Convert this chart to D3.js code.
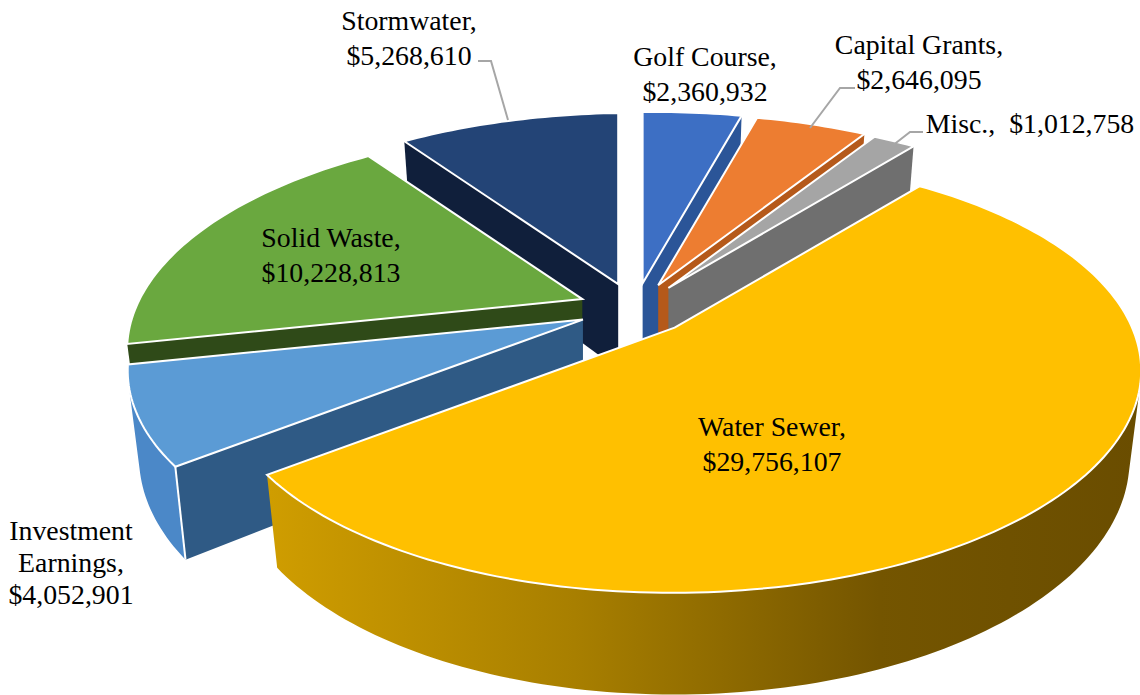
<!DOCTYPE html>
<html>
<head>
<meta charset="utf-8">
<script src="https://cdn.jsdelivr.net/npm/d3@7/dist/d3.min.js"></script>
<style>
html,body{margin:0;padding:0;background:#fff;overflow:hidden}
text{font-family:"Liberation Serif","Times New Roman",serif;font-size:27.8px;fill:#000;white-space:pre}
</style>
</head>
<body>
<svg id="chart" width="1140" height="695"></svg>
<script>
// Revenue by source, drawn clockwise from twelve o'clock
const categories = ["Golf Course", "Capital Grants", "Misc.", "Water Sewer", "Investment Earnings", "Solid Waste", "Stormwater"];
const revenues = [2360932, 2646095, 1012758, 29756107, 4052901, 10228813, 5268610];
const topColors = ["#3d6fc4", "#ed7d31", "#a5a5a5", "#ffc000", "#5b9bd5", "#6aa83f", "#234476"];
const wallColors = ["#2b5598", "#b5591a", "#6f6f6f", "url(#rimGold)", "#2f5a85", "#2f4a18", "#101f3b"];
const wallFaces = ["end", "end", "end", "none", "start", "start", "start"];
const hasRim = [false, false, false, true, true, false, false];
const paintOrder = ["Stormwater", "Solid Waste", "Golf Course", "Capital Grants", "Misc.", "Investment Earnings", "Water Sewer"];

// Label placement: lines, anchor x, first baseline
const labelLayout = [
  {name: "Stormwater", x: 409, y: 30, lines: ["Stormwater,", "$"]},
  {name: "Golf Course", x: 705, y: 66, lines: ["Golf Course,", "$"]},
  {name: "Capital Grants", x: 919, y: 54, lines: ["Capital Grants,", "$"]},
  {name: "Misc.", x: 1030, y: 133, lines: ["Misc.,  $"]},
  {name: "Water Sewer", x: 772, y: 436, lines: ["Water Sewer,", "$"]},
  {name: "Solid Waste", x: 331, y: 247, lines: ["Solid Waste,", "$"]},
  {name: "Investment Earnings", x: 71, y: 540, lines: ["Investment", "Earnings,", "$"], step: 32}
];
const leaderLines = [
  [[478, 61], [491, 61], [508, 120]],
  [[855, 88], [840, 88], [810, 128]],
  [[923, 132], [910, 132], [892, 146]]
];

// Perspective view of the pie plane
const view = {cx: 635, cy: 309, burstX: 57, burstY: 26, radiusX: 450, radiusY: 208,
              persp: 0.2155, sidePersp: 0.012, tilt: 0.01, floorScale: 0.975, depth: 85};
const money = d3.format("$,");
const svg = d3.select("#chart");
const line = d3.line();
const closed = d3.line().curve(d3.curveLinearClosed);

const defs = svg.append("defs");
const rim = defs.append("linearGradient").attr("id", "rimGold").attr("gradientUnits", "userSpaceOnUse")
  .attr("x1", 270).attr("y1", 0).attr("x2", 1140).attr("y2", 0);
[[0, "#cf9d00"], [0.35, "#a87f00"], [0.7, "#745500"], [1, "#6a4d00"]].forEach(([o, c]) =>
  rim.append("stop").attr("offset", o).attr("stop-color", c));

const arcs = d3.pie().sort(null).value(d => d).startAngle(0).endAngle(2 * Math.PI)(revenues);

function unit(a) { return {u: Math.sin(a), v: -Math.cos(a)}; }
function rimPoint(apex, a) {
  const {u, v} = unit(a), w = 1 - view.persp * v - view.sidePersp * u;
  const rx = view.radiusX * u / w, ry = view.radiusY * v / w - view.tilt * view.radiusX * u / w;
  return {top: [apex[0] + rx, apex[1] + ry],
          floor: [apex[0] + view.floorScale * rx, apex[1] + view.floorScale * ry + view.depth / w]};
}
function sampleAngles(a0, a1) {
  const n = Math.max(2, Math.ceil((a1 - a0) / 0.02));
  return d3.range(n + 1).map(i => a0 + (a1 - a0) * i / n);
}

const slices = categories.map((name, i) => {
  const arc = arcs[i], mid = (arc.startAngle + arc.endAngle) / 2, d = unit(mid);
  const apex = [view.cx + view.burstX * d.u, view.cy + view.burstY * d.v];
  return {name, i, arc, apex};
});

const layer = svg.append("g");
paintOrder.forEach(name => {
  const s = slices.find(d => d.name === name), g = layer.append("g");
  const {apex, arc, i} = s;
  // Radial face exposed by the gap beside the neighbouring slice
  if (wallFaces[i] !== "none") {
    const a = wallFaces[i] === "start" ? arc.startAngle : arc.endAngle;
    const p = rimPoint(apex, a);
    g.append("path").attr("d", closed([apex, p.top, p.floor, [apex[0], apex[1] + view.depth]]))
      .attr("fill", wallColors[i]);
  }
  // Curved outer face: one path of strips wound the same way, so they fill as a union
  if (hasRim[i]) {
    const ang = sampleAngles(arc.startAngle, arc.endAngle);
    const strips = d3.pairs(ang).map(([a, b]) => {
      const p = rimPoint(apex, a), q = rimPoint(apex, b);
      const quad = [p.top, q.top, q.floor, p.floor];
      return closed(d3.polygonArea(quad) < 0 ? quad.reverse() : quad);
    }).join("");
    g.append("path").attr("d", strips).attr("fill", name === "Water Sewer" ? "url(#rimGold)" : "#4b88c8");
    if (name === "Investment Earnings") {
      const p = rimPoint(apex, arc.startAngle);
      g.append("path").attr("d", line([p.top, p.floor])).attr("stroke", "#fff").attr("stroke-width", 2).attr("fill", "none");
    }
  }
  // Top face with its white outline
  const rimPts = sampleAngles(arc.startAngle, arc.endAngle).map(a => rimPoint(apex, a).top);
  g.append("path").attr("d", closed([apex, ...rimPts]))
    .attr("fill", topColors[i]).attr("stroke", "#fff").attr("stroke-width", 2).attr("stroke-linejoin", "miter");
});

// Leader lines
svg.append("g").selectAll("path").data(leaderLines).join("path")
  .attr("d", d => line(d)).attr("fill", "none").attr("stroke", "#a6a6a6").attr("stroke-width", 2);

// Labels state each source and its amount
const labels = svg.append("g");
labelLayout.forEach(l => {
  const value = revenues[categories.indexOf(l.name)];
  const step = l.step || 34.5;
  l.lines.forEach((t, k) => {
    labels.append("text").attr("x", l.x).attr("y", l.y + k * step).attr("text-anchor", "middle")
      .text(t.endsWith("$") ? t.slice(0, -1) + money(value) : t);
  });
});
</script>
</body>
</html>
